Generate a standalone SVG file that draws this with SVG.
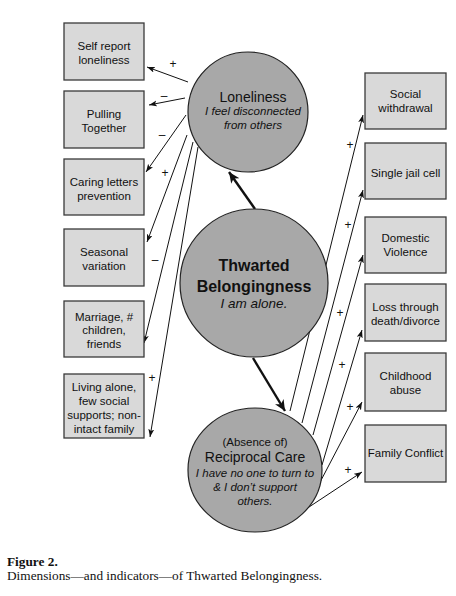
<svg xmlns="http://www.w3.org/2000/svg" width="456" height="596" viewBox="0 0 456 596">
<style>
.box{fill:#d9d9d9;stroke:#3a3a3a;stroke-width:1.3}
.circ{fill:#a8a8a8;stroke:#222;stroke-width:1.2}
.t{font-family:"Liberation Sans",Arial,sans-serif;font-size:11.5px;fill:#111;text-anchor:middle}
.ct{font-family:"Liberation Sans",Arial,sans-serif;font-size:14px;fill:#111;text-anchor:middle}
.ci{font-family:"Liberation Sans",Arial,sans-serif;font-size:11.5px;font-style:italic;fill:#111;text-anchor:middle}
.tb{font-family:"Liberation Sans",Arial,sans-serif;font-size:16px;font-weight:bold;fill:#111;text-anchor:middle}
.lbl{font-family:"Liberation Sans",Arial,sans-serif;font-size:12px;fill:#111;text-anchor:middle}
.ln{stroke:#111;stroke-width:1;fill:none;marker-end:url(#ah)}
.thick{stroke:#111;stroke-width:2.4;fill:none;marker-end:url(#ahb)}
.cap{font-family:"Liberation Serif","Times New Roman",serif;font-size:13.3px;fill:#111}
</style>
<defs>
<marker id="ah" markerUnits="userSpaceOnUse" markerWidth="10" markerHeight="8" refX="8" refY="3" orient="auto">
<path d="M0,0 L8,3 L0,6 L2,3 Z" fill="#111"/>
</marker>
<marker id="ahb" markerUnits="userSpaceOnUse" markerWidth="14" markerHeight="12" refX="11" refY="5" orient="auto">
<path d="M0,0 L11,5 L0,10 L3,5 Z" fill="#111"/>
</marker>
</defs>

<g id="connectors">
<line class="ln" x1="188" y1="82" x2="147" y2="67"/>
<line class="ln" x1="185" y1="98" x2="149" y2="105"/>
<line class="ln" x1="186" y1="115" x2="146" y2="172"/>
<line class="ln" x1="187" y1="135" x2="147" y2="242"/>
<line class="ln" x1="193" y1="142" x2="144" y2="343"/>
<line class="ln" x1="198" y1="147" x2="150" y2="437"/>
<line class="ln" x1="290" y1="411" x2="363" y2="115"/>
<line class="ln" x1="302" y1="423" x2="363" y2="190"/>
<line class="ln" x1="313" y1="435" x2="363" y2="255"/>
<line class="ln" x1="322" y1="465" x2="362" y2="330"/>
<line class="ln" x1="306" y1="509" x2="362" y2="402"/>
<line class="ln" x1="306" y1="509" x2="362" y2="472"/>
<line class="thick" x1="255" y1="209" x2="229" y2="172"/>
<line class="thick" x1="253" y1="358" x2="285" y2="411"/>
<text class="lbl" x="173" y="68">+</text>
<text class="lbl" x="164" y="100">–</text>
<text class="lbl" x="162" y="139">–</text>
<text class="lbl" x="165" y="177">+</text>
<text class="lbl" x="155" y="264">–</text>
<text class="lbl" x="152" y="382">+</text>
<text class="lbl" x="350" y="149">+</text>
<text class="lbl" x="348" y="229">+</text>
<text class="lbl" x="340" y="317">+</text>
<text class="lbl" x="342" y="369">+</text>
<text class="lbl" x="350" y="411">+</text>
<text class="lbl" x="348" y="474">+</text>
</g>

<g id="loneliness">
<circle class="circ" cx="248" cy="112" r="60"/>
<text class="ct" x="253" y="102">Loneliness</text>
<text class="ci" x="253" y="115">I feel disconnected</text>
<text class="ci" x="253" y="129">from others</text>
</g>
<g id="thwarted">
<circle class="circ" cx="254" cy="283" r="74"/>
<text class="tb" x="254" y="271">Thwarted</text>
<text class="tb" x="254" y="292">Belongingness</text>
<text class="ci" x="254" y="308" style="font-size:13.5px">I am alone.</text>
</g>
<g id="reciprocal">
<ellipse class="circ" cx="255" cy="470" rx="67" ry="62"/>
<text class="t" x="255" y="446">(Absence of)</text>
<text class="ct" x="255" y="462">Reciprocal Care</text>
<text class="ci" x="255" y="477">I have no one to turn to</text>
<text class="ci" x="255" y="491">&amp; I don’t support</text>
<text class="ci" x="255" y="505">others.</text>
</g>

<g id="self-report"><rect class="box" x="64" y="23" width="80" height="57"/><text class="t" x="104" y="50">Self report</text><text class="t" x="104" y="64">loneliness</text></g>
<g id="pulling-together"><rect class="box" x="64" y="91" width="80" height="57"/><text class="t" x="104" y="118">Pulling</text><text class="t" x="104" y="132">Together</text></g>
<g id="caring-letters"><rect class="box" x="64" y="159" width="80" height="56"/><text class="t" x="104" y="186">Caring letters</text><text class="t" x="104" y="200">prevention</text></g>
<g id="seasonal"><rect class="box" x="64" y="229" width="80" height="57"/><text class="t" x="104" y="256">Seasonal</text><text class="t" x="104" y="270">variation</text></g>
<g id="marriage"><rect class="box" x="64" y="301" width="80" height="56"/><text class="t" x="104" y="321">Marriage, #</text><text class="t" x="104" y="334">children,</text><text class="t" x="104" y="348">friends</text></g>
<g id="living-alone"><rect class="box" x="64" y="374" width="80" height="64"/><text class="t" x="104" y="391">Living alone,</text><text class="t" x="104" y="405">few social</text><text class="t" x="104" y="419">supports; non-</text><text class="t" x="104" y="433">intact family</text></g>

<g id="social-withdrawal"><rect class="box" x="365" y="73" width="81" height="56"/><text class="t" x="405.5" y="98">Social</text><text class="t" x="405.5" y="112">withdrawal</text></g>
<g id="single-jail"><rect class="box" x="365" y="143" width="81" height="56"/><text class="t" x="405.5" y="177">Single jail cell</text></g>
<g id="domestic-violence"><rect class="box" x="365" y="217" width="81" height="56"/><text class="t" x="405.5" y="242">Domestic</text><text class="t" x="405.5" y="256">Violence</text></g>
<g id="loss"><rect class="box" x="365" y="284" width="81" height="57"/><text class="t" x="405.5" y="311">Loss through</text><text class="t" x="405.5" y="325">death/divorce</text></g>
<g id="childhood-abuse"><rect class="box" x="365" y="353" width="81" height="58"/><text class="t" x="405.5" y="380">Childhood</text><text class="t" x="405.5" y="394">abuse</text></g>
<g id="family-conflict"><rect class="box" x="365" y="425" width="81" height="57"/><text class="t" x="405.5" y="457">Family Conflict</text></g>

<g id="caption">
<text class="cap" x="7" y="566" font-weight="bold">Figure 2.</text>
<text class="cap" x="7" y="580">Dimensions—and indicators—of Thwarted Belongingness.</text>
</g>
</svg>
